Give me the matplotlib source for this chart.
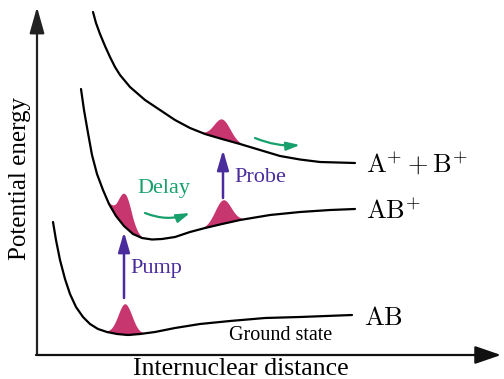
import numpy as np
import matplotlib.pyplot as plt

plt.rcParams['mathtext.fontset'] = 'cm'
serif = 'Liberation Serif'

# potential curves (pixel coords, y down)
ground_x = [53, 56, 60, 65, 70, 76, 83, 90, 98, 107, 117, 128, 140, 155, 175, 200, 230, 265, 300, 352]
ground_y = [222, 240, 260, 279, 294, 307, 317, 324, 329, 332, 334, 335, 334, 332, 328, 324, 321, 318, 317, 315]

ion_x = [81, 84, 88, 92, 97, 103, 109, 116, 124, 133, 142, 152, 162, 175, 190, 205, 222, 240, 270, 300, 330, 355]
ion_y = [89, 110, 133, 155, 174, 190, 204, 216, 226, 234, 238, 239.5, 239, 237, 232, 228, 224, 220, 215, 212, 210, 209]

dion_x = [93, 96, 100, 105, 110, 115, 120, 130, 145, 160, 175, 190, 205, 222, 240, 260, 280, 300, 320, 355]
dion_y = [12, 23, 34, 46, 57, 67, 75, 87, 100, 110, 120, 128, 134, 139, 144, 150, 156, 159.5, 162, 163]

# wavepackets: centre, height, width, which curve
pk_center = [125, 125, 223, 222]
pk_height = [31, 33, 24, 20]
pk_sigma = [7.0, 6.5, 8.0, 8.0]
pk_curve = ['ground', 'ion', 'ion', 'dion']

curves = {'ground': (ground_x, ground_y), 'ion': (ion_x, ion_y), 'dion': (dion_x, dion_y)}

magenta = '#c8366f'
purple = '#4a2c9c'
green = '#17a06c'

fig = plt.figure(figsize=(5.04, 3.79), dpi=100)
ax = fig.add_axes([0, 0, 1, 1])
ax.set_xlim(0, 504)
ax.set_ylim(379, 0)
ax.axis('off')

# axes arrows
ax.annotate('', xy=(37, 7), xytext=(37, 355),
            arrowprops=dict(arrowstyle='-|>,head_length=16,head_width=4.5', mutation_scale=1,
                            color='#222222', lw=1.6, shrinkA=0, shrinkB=0))
ax.annotate('', xy=(501, 355), xytext=(36, 355),
            arrowprops=dict(arrowstyle='-|>,head_length=16,head_width=5.5', mutation_scale=1,
                            color='#111111', lw=1.6, shrinkA=0, shrinkB=0))

# wavepackets under the curves
for c, h, s, k in zip(pk_center, pk_height, pk_sigma, pk_curve):
    cx, cy = curves[k]
    xx = np.linspace(c - 4 * s, c + 4 * s, 200)
    base = np.interp(xx, cx, cy)
    top = base - h * np.exp(-(xx - c) ** 2 / (2 * s ** 2))
    ax.fill_between(xx, base, top, color=magenta, lw=0, zorder=2)

for k in curves:
    ax.plot(curves[k][0], curves[k][1], color='black', lw=1.6, zorder=3,
            solid_capstyle='round', solid_joinstyle='round')

# pump / probe
ax.annotate('', xy=(124, 232), xytext=(124, 298),
            arrowprops=dict(arrowstyle='-|>,head_length=12,head_width=3.5', mutation_scale=1,
                            color=purple, lw=1.8, shrinkA=0, shrinkB=0), zorder=4)
ax.annotate('', xy=(223, 150), xytext=(223, 198),
            arrowprops=dict(arrowstyle='-|>,head_length=12,head_width=3.5', mutation_scale=1,
                            color=purple, lw=1.8, shrinkA=0, shrinkB=0), zorder=4)
ax.text(130, 268, 'Pump', color=purple, family=serif, fontsize=16, va='center', ha='left')
ax.text(234, 178, 'Probe', color=purple, family=serif, fontsize=16, va='center', ha='left')

# delay
ax.text(137, 188, 'Delay', color=green, family=serif, fontsize=16, va='center', ha='left')
ax.annotate('', xy=(190, 213), xytext=(145, 213),
            arrowprops=dict(arrowstyle='-|>,head_length=8,head_width=2.5', mutation_scale=1,
                            color=green, lw=1.6, shrinkA=0, shrinkB=0,
                            connectionstyle='arc3,rad=0.2'))
ax.annotate('', xy=(300, 145), xytext=(255, 138),
            arrowprops=dict(arrowstyle='-|>,head_length=8,head_width=2.5', mutation_scale=1,
                            color=green, lw=1.6, shrinkA=0, shrinkB=0,
                            connectionstyle='arc3,rad=0.12'))

# state labels
ax.text(366, 165, r'$\mathrm{A}^{+} + \mathrm{B}^{+}$', fontsize=19, va='center', ha='left')
ax.text(366, 212, r'$\mathrm{AB}^{+}$', fontsize=19, va='center', ha='left')
ax.text(364, 318, r'$\mathrm{AB}$', fontsize=19, va='center', ha='left')
ax.text(281, 336, 'Ground state', family=serif, fontsize=14.5, va='center', ha='center')

ax.text(241, 369, 'Internuclear distance', family=serif, fontsize=18.5, va='center', ha='center')
ax.text(20, 179, 'Potential energy', family=serif, fontsize=18, va='center', ha='center',
        rotation=90)

fig.savefig('out.png', dpi=100)
